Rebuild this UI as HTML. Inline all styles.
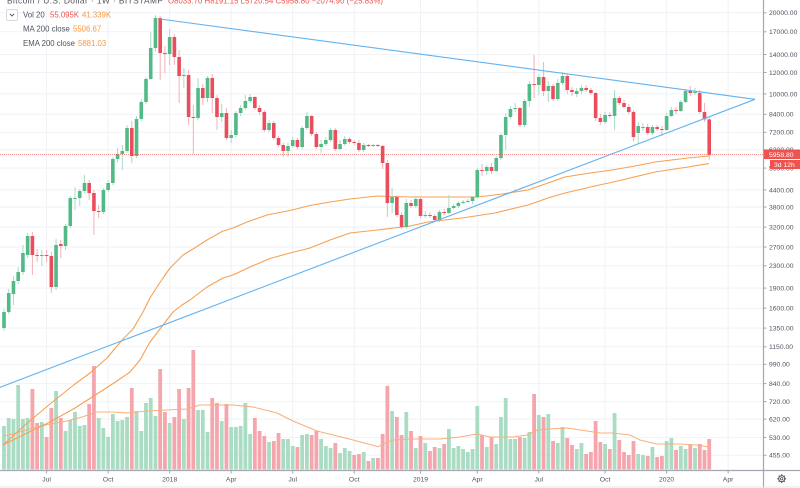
<!DOCTYPE html>
<html><head><meta charset="utf-8">
<style>
html,body{margin:0;padding:0;background:#fff;width:800px;height:488px;overflow:hidden}
svg{display:block;font-family:"Liberation Sans",Arial,sans-serif}
</style></head><body>
<svg id="c" width="800" height="488" viewBox="0 0 800 488" xmlns="http://www.w3.org/2000/svg">
<rect width="800" height="488" fill="#fff"/>
<g id="grid" stroke="#eff2f7" stroke-width="1"></g>
<g id="vol"></g>
<g fill="none" stroke-linejoin="round">
<polyline stroke="#f8b07a" stroke-width="1" points="3,436 13,434 33,428 50,424 67,421 82,417 97,412 112,412 127,413 147,411 167,410 187,409 200,405 233,405 253,407 277,413 293,421 317,431 333,435 353,440 372,445 378,446.7 383,444 393,440 410,439 440,439 460,437 477,434 490,437 513,437 527,435 537,430 550,429 567,428 587,431 600,433 613,433 630,435 640,440 657,444 680,444 697,445 709,447"/>
<polyline stroke="#f7a052" stroke-width="1.1" points="3,445 25,434 50,422 75,408 100,392 117,381 130,372 140,360 150,342 157,333 163,325 173,312 182,305 190,300 207,287 223,278 233,275 250,267 270,258.5 290,253 310,248 330,240 350,233 377,230 410,226 428,222 462,218 495,213 528,205 548,198 565,193 595,186 622,180 655,172 688,167 709,163.6"/>
<polyline stroke="#f7a052" stroke-width="1.1" points="3,445 25,425 50,404 75,384 90,373 107,358 123,339 133,329 143,312 150,298 157,287 163,278 170,268 177,261 183,255 193,249 207,240 223,231 233,228 247,222 267,215 290,210.5 310,205.5 330,202 350,199 377,196 410,197 440,197 462,197 478,197 502,194 528,190 548,183 565,177 590,173 612,170 635,166 655,162 688,158 709,156"/>
</g>
<g id="cdl"></g>
<line x1="0" y1="154.5" x2="763" y2="154.5" stroke="#ef5350" stroke-width="1" stroke-dasharray="1 1" opacity="0.65"/>
<g stroke="#63b2f0" stroke-width="1.1" fill="none">
<line x1="160" y1="19" x2="755" y2="99.3"/>
<line x1="0" y1="387.3" x2="755" y2="99.3"/>
</g>
<!-- header -->
<text x="7" y="3.4" font-size="8.4" fill="#50535e" textLength="156" lengthAdjust="spacing">Bitcoin / U.S. Dollar · 1W · BITSTAMP</text>
<text x="168" y="3.4" font-size="7.8" fill="#ef5350" textLength="215" lengthAdjust="spacing">O8033.70 H8191.15 L5720.54 C5958.80 −2074.90 (−25.83%)</text>
<!-- legend -->
<rect x="6.5" y="9.5" width="11" height="11" rx="1.5" fill="#fff" stroke="#d6d8de" stroke-width="1"/>
<path d="M9.8 13.8 L12 16 L14.2 13.8" fill="none" stroke="#4c525e" stroke-width="0.9"/>
<g font-size="7.8">
<text x="23" y="17.3" fill="#4c525e">Vol 20</text>
<text x="50" y="17.3" fill="#ef5350">55.095K</text>
<text x="82" y="17.3" fill="#f59a45">41.339K</text>
<text x="23" y="31.7" fill="#4c525e">MA 200 close</text>
<text x="73" y="31.7" fill="#f59a45">5506.67</text>
<text x="23" y="46" fill="#4c525e">EMA 200 close</text>
<text x="78" y="46" fill="#f59a45">5881.03</text>
</g>
<!-- price axis -->
<rect x="764" y="0" width="36" height="488" fill="#fff"/>
<line x1="763.5" y1="0" x2="763.5" y2="488" stroke="#a3a6af" stroke-width="1.2"/>
<line x1="0" y1="470.5" x2="800" y2="470.5" stroke="#a3a6af" stroke-width="1.2"/>
<line x1="0" y1="487" x2="800" y2="487" stroke="#e3e6ec" stroke-width="1"/>
<g id="ticks" stroke="#a3a6af" stroke-width="1"></g>
<g font-size="6.8" fill="#4f5561">
<text x="769" y="15.2">20000.00</text>
<text x="769" y="34.2">17000.00</text>
<text x="769" y="56.9">14000.00</text>
<text x="769" y="74.9">12000.00</text>
<text x="769" y="96.3">10000.00</text>
<text x="769" y="116.7">8400.00</text>
<text x="769" y="134.7">7200.00</text>
<text x="769" y="152.2">6200.00</text>
<text x="769" y="170.5">5300.00</text>
<text x="769" y="192.3">4400.00</text>
<text x="769" y="209.4">3800.00</text>
<text x="769" y="229.5">3200.00</text>
<text x="769" y="249.4">2700.00</text>
<text x="769" y="268.2">2300.00</text>
<text x="769" y="290.5">1900.00</text>
<text x="769" y="310.6">1600.00</text>
<text x="769" y="330.5">1350.00</text>
<text x="769" y="349.2">1150.00</text>
<text x="769" y="366.7">990.00</text>
<text x="769" y="386.0">840.00</text>
<text x="769" y="404.0">720.00</text>
<text x="769" y="421.5">620.00</text>
<text x="769" y="439.8">530.00</text>
<text x="769" y="457.7">455.00</text>
</g>
<rect x="764" y="149.5" width="36" height="9.5" fill="#ef5350"/>
<text x="769" y="156.9" font-size="6.8" fill="#fff">5958.80</text>
<rect x="770" y="160" width="30" height="9" fill="#ef5350"/>
<text x="774" y="167" font-size="6.8" fill="#fff">3d 12h</text>
<!-- time axis labels -->
<g font-size="6.8" fill="#4f5561" text-anchor="middle">
<text x="46.6" y="481.3">Jul</text>
<text x="108.1" y="481.3">Oct</text>
<text x="169.7" y="481.3">2018</text>
<text x="231.2" y="481.3">Apr</text>
<text x="292.7" y="481.3">Jul</text>
<text x="354.2" y="481.3">Oct</text>
<text x="420.5" y="481.3">2019</text>
<text x="477.3" y="481.3">Apr</text>
<text x="538.8" y="481.3">Jul</text>
<text x="605.1" y="481.3">Oct</text>
<text x="666.6" y="481.3">2020</text>
<text x="728.1" y="481.3">Apr</text>
</g>
<!-- gear -->
<g transform="translate(781.7,478.7)" stroke="#50535e" fill="none">
<circle r="3" stroke-width="1"/>
<circle r="1.2" stroke-width="0.8"/>
<g stroke-width="1.3">
<line x1="0" y1="-3" x2="0" y2="-4.3"/><line x1="0" y1="3" x2="0" y2="4.3"/>
<line x1="-3" y1="0" x2="-4.3" y2="0"/><line x1="3" y1="0" x2="4.3" y2="0"/>
<line x1="2.1" y1="2.1" x2="3" y2="3"/><line x1="-2.1" y1="-2.1" x2="-3" y2="-3"/>
<line x1="2.1" y1="-2.1" x2="3" y2="-3"/><line x1="-2.1" y1="2.1" x2="-3" y2="3"/>
</g>
</g>
</svg>
<script>
(function(){
var NS="http://www.w3.org/2000/svg";
function el(p,t,a){var e=document.createElementNS(NS,t);for(var k in a)e.setAttribute(k,a[k]);p.appendChild(e);return e;}
var X=function(i){return 4+4.733*i;};
var py=[12.8,31.8,54.5,72.5,93.9,114.3,132.3,149.8,168.1,189.9,207.0,227.1,247.0,265.8,288.1,308.2,328.1,346.8,364.3,383.6,401.6,419.1,437.4,455.3];
var tx=[9,22,35,48,61,74,88,100,113,127,140,153];
var g=document.getElementById('grid'),tk=document.getElementById('ticks');
py.forEach(function(y){el(g,'line',{x1:0,x2:763,y1:y,y2:y});el(tk,'line',{x1:763.5,x2:766.5,y1:y,y2:y});});
tx.forEach(function(i){var x=X(i);el(g,'line',{x1:x,x2:x,y1:0,y2:470});el(tk,'line',{x1:x,x2:x,y1:470.5,y2:473.5});});
var D=[[328,312,309,331],[312,293,289,314],[294,281,276,305],[281,272,267,284],[272,253,245,275],[255,236,233,258],[236,255,232,275],[255,256,249,262],[256,255,250,266],[255,256,250,262],
[256,287,252,293],[287,245,239,290],[244,246,240,258],[246,226,224,250],[226,198,196,228],[199,198,187,210],[198,191,189,206],[191,183,175,193],[183,193,180,200],[193,211,190,235],
[211,212,205,218],[212,190,188,214],[190,183,180,192],[183,159,157,185],[159,154,148,162],[154,151,145,170],[151,128,125,153],[128,156,121,163],[156,119,116,158],[119,102,99,121],
[102,79,77,104],[79,48,32,80],[48,18,15,52],[18,53,16,80],[53,54,46,73],[54,37,29,65],[37,57,34,65],[57,76,50,103],[76,75,68,88],[75,117,70,125],
[117,118,105,154],[118,88,78,120],[88,98,84,105],[98,78,76,102],[78,98,74,113],[98,117,95,130],[117,113,104,122],[113,138,108,140],[138,135,130,143],[135,113,111,137],
[113,108,105,116],[108,101,95,110],[101,97,94,103],[97,108,96,110],[108,112,105,115],[112,130,110,132],[130,123,120,132],[123,138,121,140],[138,145,136,147],[145,151,143,157],
[151,146,143,157],[146,140,137,148],[140,147,138,149],[147,128,126,149],[128,116,112,130],[116,134,115,136],[134,147,132,149],[147,144,140,153],[144,140,137,146],[140,130,128,142],
[130,149,128,151],[149,144,140,150],[144,139,136,146],[139,142,137,144],[142,143,140,145],[143,150,140,152],[150,145,143,152],[145,146,144,147],[146,145,144,147],[145,146,144,147],
[146,163,145,169],[163,203,160,217],[203,197,188,213],[197,215,195,217],[215,227,212,229],[227,203,199,229],[203,206,200,208],[206,199,196,208],[199,216,197,218],[216,215,211,218],
[215,216,212,218],[216,220,214,222],[220,212,210,222],[212,213,209,215],[213,208,195,214],[208,206,204,209],[206,203,201,208],[203,202,200,204],[202,201,199,203],[201,197,196,204],
[197,170,168,199],[170,171,164,176],[171,167,165,175],[167,171,163,174],[171,158,156,172],[158,135,133,160],[135,117,113,150],[117,109,106,119],[109,108,103,112],[108,125,107,127],
[125,101,99,127],[101,84,81,107],[84,85,55,98],[85,77,74,95],[77,91,62,96],[91,86,81,102],[86,99,84,101],[99,83,79,101],[83,76,72,85],[76,90,74,94],
[90,92,87,96],[94,91,88,97],[91,88,85,94],[88,90,85,92],[90,93,88,95],[93,118,92,121],[118,122,114,125],[122,115,112,124],[115,116,112,118],[116,98,90,130],
[98,103,96,105],[103,107,100,108],[107,112,104,114],[112,137,110,141],[133,126,122,143],[128,127,123,131],[127,133,124,135],[133,127,125,135],[127,129,125,131],[129,130,126,136],
[130,116,113,131],[116,110,107,117],[110,111,107,114],[111,102,100,112],[102,91,89,103],[91,93,86,96],[93,92,88,95],[93,112,90,114],[112,119.4,103,122],[119.4,154.8,117.1,159.6]];
var V=[[426,1],[418,1],[419,1],[385,1],[419,1],[418,1],[389,0],[423,0],[422,1],[437,0],
[408,0],[391,1],[418,0],[431,1],[420,1],[412,1],[426,1],[425,1],[404,0],[366,0],
[418,1],[428,1],[437,1],[414,1],[421,1],[420,1],[417,1],[388,0],[411,1],[431,1],
[403,1],[398,1],[416,1],[369,0],[412,0],[423,1],[417,0],[389,0],[419,1],[388,0],
[350,0],[410,1],[410,1],[432,1],[398,0],[403,0],[421,1],[404,0],[427,1],[427,1],
[426,1],[403,1],[434,1],[418,0],[431,0],[436,0],[442,1],[441,0],[433,0],[439,1],
[439,1],[446,1],[447,0],[435,1],[434,1],[435,0],[431,0],[439,1],[446,1],[448,1],
[443,0],[453,1],[448,1],[451,1],[455,0],[454,0],[452,1],[461,0],[458,1],[458,0],
[434,0],[386,0],[411,1],[417,0],[435,0],[412,1],[431,0],[448,1],[436,0],[443,1],
[451,0],[447,0],[448,1],[444,0],[429,1],[448,1],[446,1],[449,1],[452,1],[449,1],
[406,1],[435,0],[447,1],[437,0],[444,1],[417,1],[398,1],[439,1],[439,1],[437,0],
[438,1],[432,1],[394,0],[415,1],[417,0],[414,1],[441,0],[443,1],[427,1],[438,0],
[445,0],[449,1],[443,1],[454,0],[452,0],[421,0],[442,0],[444,1],[449,0],[413,1],
[440,0],[452,0],[455,0],[441,0],[454,1],[455,1],[456,0],[447,1],[457,0],[456,0],
[441,1],[438,1],[450,0],[446,1],[449,1],[444,0],[448,1],[444,0],[450,0],[439,0]];
var vg=document.getElementById('vol');
V.forEach(function(v,i){var x=X(i);el(vg,'rect',{x:(x-1.9).toFixed(2),y:v[0],width:3.8,height:(469.5-v[0]).toFixed(2),fill:v[1]?'#a9dcc3':'#f5a6ad'});});
var cg=document.getElementById('cdl');
D.forEach(function(d,i){var x=X(i),o=d[0],c=d[1],h=d[2],l=d[3];var up=c<o;
el(cg,'line',{x1:x,x2:x,y1:h,y2:l,stroke:up?'#a9dcc4':'#f4b0b6','stroke-width':1});
var t=Math.min(o,c),hh=Math.max(Math.abs(o-c),1);
el(cg,'rect',{x:(x-1.8).toFixed(2),y:t,width:3.6,height:hh,fill:up?'#53b987':'#eb4d5c'});});
})();
</script>
</body></html>
